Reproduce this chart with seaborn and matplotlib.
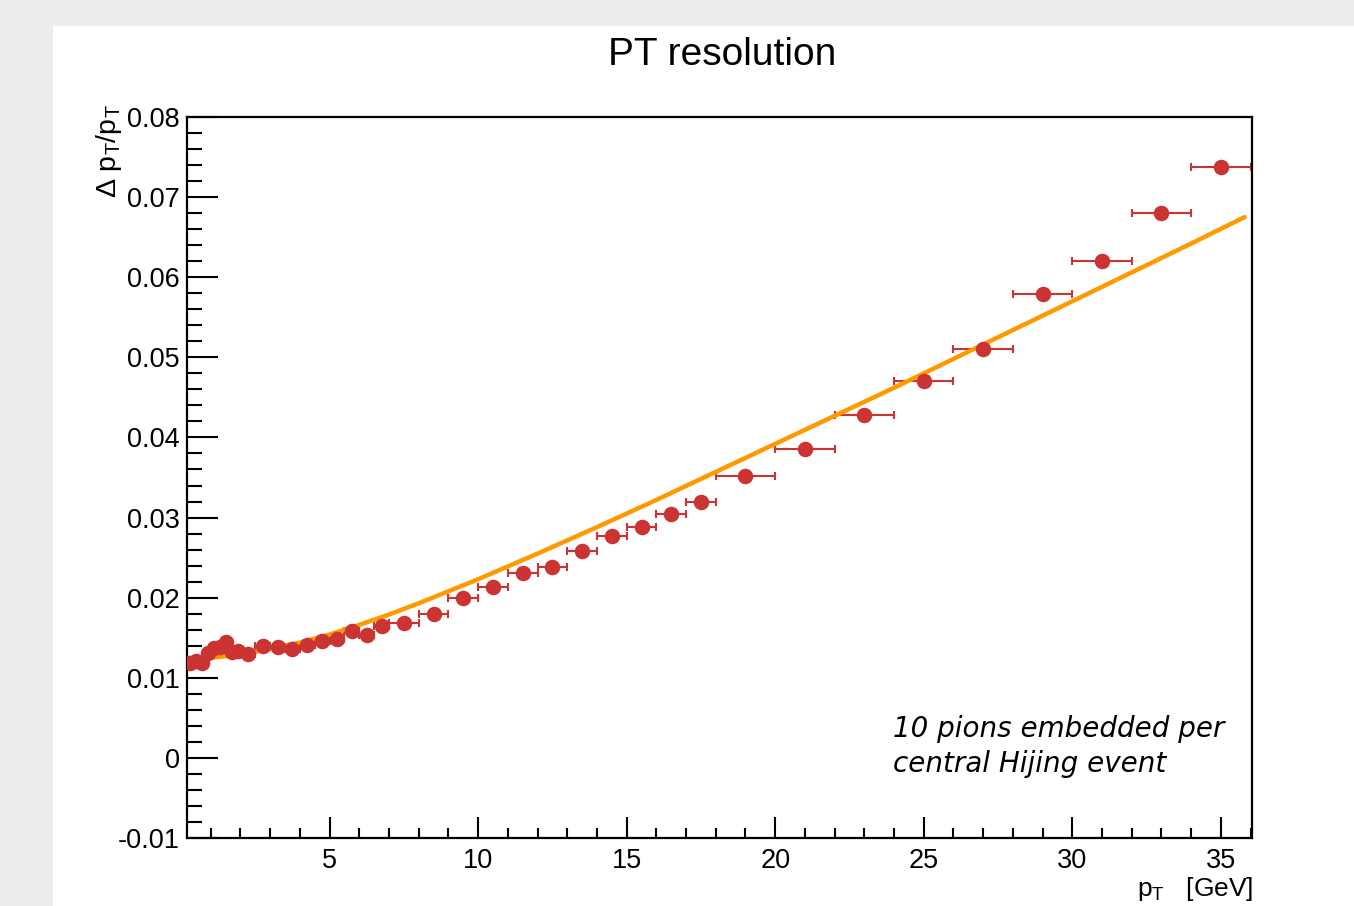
import matplotlib
matplotlib.use("Agg")
import matplotlib.pyplot as plt
from matplotlib.ticker import MultipleLocator, FuncFormatter
from matplotlib.patches import Rectangle
import seaborn as sns
import pandas as pd

# measured resolution points (bin centre, dpT/pT)
pt = [0.3, 0.5, 0.7, 0.9, 1.1, 1.3, 1.5, 1.7, 1.9,
      2.25, 2.75, 3.25, 3.75, 4.25, 4.75, 5.25, 5.75, 6.25, 6.75,
      7.5, 8.5, 9.5, 10.5, 11.5, 12.5, 13.5, 14.5, 15.5, 16.5, 17.5,
      19, 21, 23, 25, 27, 29, 31, 33, 35]
res = [0.0118, 0.0121, 0.0118, 0.0131, 0.0137, 0.0139, 0.0145, 0.0132, 0.0133,
       0.0130, 0.0140, 0.0138, 0.0136, 0.0141, 0.0146, 0.0149, 0.0158, 0.0154, 0.0165,
       0.0169, 0.0180, 0.0200, 0.0213, 0.0231, 0.0238, 0.0258, 0.0277, 0.0288, 0.0304, 0.0319,
       0.0352, 0.0385, 0.0428, 0.0470, 0.0510, 0.0579, 0.0620, 0.0680, 0.0738]
# half bin widths
pt_err = [0.1] * 9 + [0.25] * 10 + [0.5] * 11 + [1.0] * 9

# fit curve
fit_pt = [0.5, 1, 2, 3, 4, 5, 6, 7, 8, 9, 10, 12, 14, 16, 18, 20,
          22, 24, 26, 28, 30, 32, 34, 35.8]
fit_res = [0.0124, 0.0125, 0.0129, 0.0136, 0.0144, 0.0154, 0.0166, 0.0179, 0.0193,
           0.0208, 0.0223, 0.0255, 0.0288, 0.0322, 0.0357, 0.0392,
           0.0427, 0.0462, 0.0498, 0.0534, 0.0570, 0.0606, 0.0642, 0.0675]

df = pd.DataFrame({"pt": pt, "res": res})
fit = pd.DataFrame({"pt": fit_pt, "res": fit_res})

sns.set_style("ticks")
plt.rcParams["font.family"] = ["Liberation Sans", "DejaVu Sans"]
plt.rcParams["mathtext.fontset"] = "custom"
plt.rcParams["mathtext.rm"] = "Liberation Sans"
plt.rcParams["mathtext.it"] = "Liberation Sans"
plt.rcParams["axes.unicode_minus"] = False
plt.rcParams["text.color"] = "black"
plt.rcParams["xtick.color"] = "black"
plt.rcParams["ytick.color"] = "black"

red = "#cc3333"
orange = "#ff9900"

fig = plt.figure(figsize=(13.54, 9.06), dpi=100)
fig.patch.set_facecolor("#eceeec")
fig.patches.append(Rectangle((53 / 1354, 0), 1, 1 - 26 / 906, transform=fig.transFigure,
                             facecolor="white", edgecolor="none", zorder=0))
ax = fig.add_axes([187 / 1354, 1 - 838 / 906, (1252 - 187) / 1354, (838 - 117) / 906])
ax.set_zorder(2)
ax.set_facecolor("white")

ax.errorbar(pt, res, xerr=pt_err, fmt="none", ecolor=red, elinewidth=1.5,
            capsize=2.7, capthick=1.5, zorder=2)
sns.lineplot(data=fit, x="pt", y="res", color=orange, linewidth=3.2, sort=False,
             estimator=None, ax=ax, zorder=3)
sns.scatterplot(data=df, x="pt", y="res", color=red, s=125, linewidth=0, ax=ax, zorder=4)

ax.set_xlim(0.2, 36.05)
ax.set_ylim(-0.01, 0.08)
ax.set_xticks([5, 10, 15, 20, 25, 30, 35])
ax.xaxis.set_minor_locator(MultipleLocator(1))
ax.yaxis.set_major_locator(MultipleLocator(0.01))
ax.yaxis.set_minor_locator(MultipleLocator(0.002))
ax.yaxis.set_major_formatter(FuncFormatter(lambda v, p: "%g" % round(v, 4)))
ax.tick_params(axis="both", which="both", direction="in", width=1.5, labelsize=19.5,
               top=False, right=False, colors="black")
ax.tick_params(axis="x", which="major", length=15, pad=7)
ax.tick_params(axis="x", which="minor", length=7.5)
ax.tick_params(axis="y", which="major", length=22.5, pad=5)
ax.tick_params(axis="y", which="minor", length=11)
for s in ax.spines.values():
    s.set_linewidth(1.6)
    s.set_color("black")
ax.set_xlabel("")
ax.set_ylabel("")

fig.text(722 / 1354, 1 - 55 / 906, "PT resolution", ha="center", va="center", fontsize=28)
fig.text(109 / 1354, 1 - 104 / 906, r"$\Delta\ \mathrm{p}_{\mathrm{T}}/\mathrm{p}_{\mathrm{T}}$",
         rotation=90, ha="center", va="top", fontsize=20.5)
fig.text(1253 / 1354, 1 - 896 / 906, r"$\mathrm{p}_{\mathrm{T}}$   [GeV]",
         ha="right", va="baseline", fontsize=19)

ax.text(0.663, 0.140, "10 pions embedded per", transform=ax.transAxes,
        fontsize=20, style="italic", family="DejaVu Sans", va="baseline")
ax.text(0.663, 0.0915, "central Hijing event", transform=ax.transAxes,
        fontsize=20, style="italic", family="DejaVu Sans", va="baseline")

fig.savefig("out.png", dpi=100, facecolor=fig.get_facecolor())
